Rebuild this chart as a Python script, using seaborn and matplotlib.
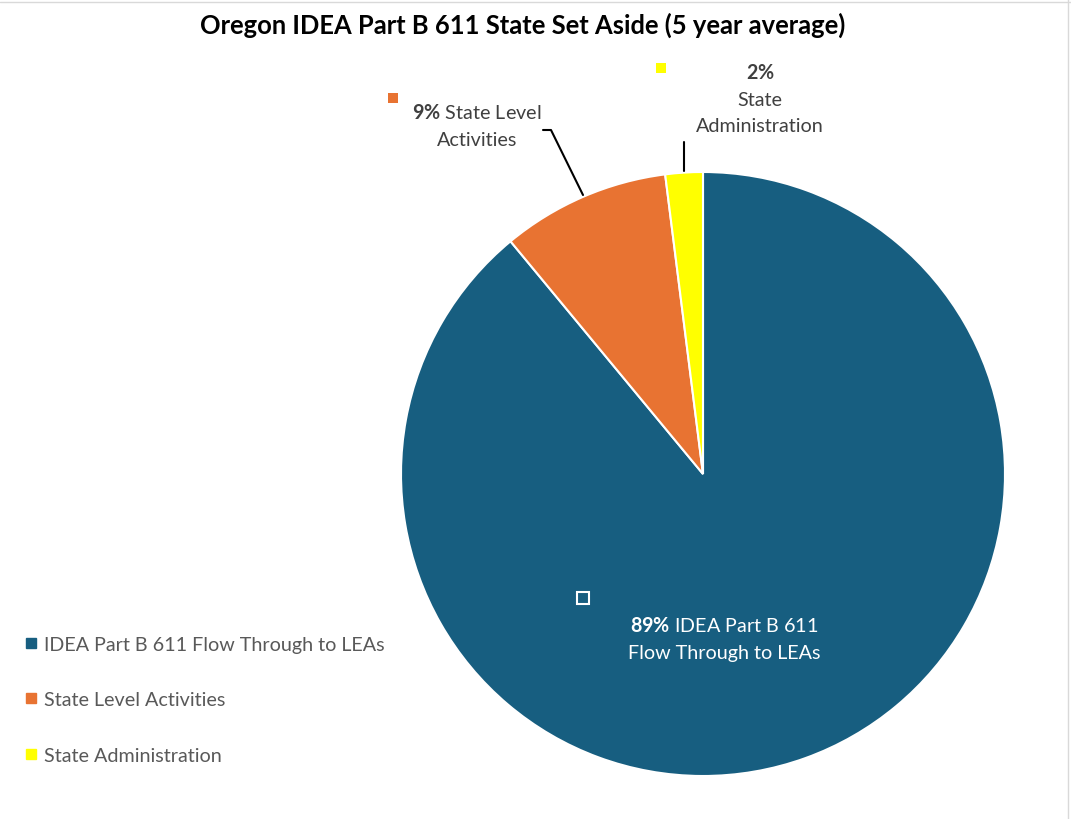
import seaborn as sns
import matplotlib.pyplot as plt
from matplotlib.lines import Line2D

# data
categories = ["IDEA Part B 611 Flow Through to LEAs", "State Level Activities", "State Administration"]
shares = [89, 9, 2]
colors = ["#175E80", "#E87332", "#FFFF00"]
title = "Oregon IDEA Part B 611 State Set Aside (5 year average)"

sns.set_theme(style="white")
plt.rcParams["font.family"] = ["Lato", "DejaVu Sans"]
plt.rcParams["mathtext.fontset"] = "custom"
plt.rcParams["mathtext.rm"] = "Lato"
plt.rcParams["mathtext.bf"] = "Lato:bold"

W, H = 1071, 820
cx, cy, R = 703, 475, 302

fig = plt.figure(figsize=(W / 100, H / 100), dpi=100)
ax = fig.add_axes([0, 0, 1, 1])


def d(px, py):
    # pixel position -> data position (pie radius = 1)
    return (px - cx) / R, (cy - py) / R


wedges, _ = ax.pie(shares, colors=colors, startangle=90, counterclock=False,
                   radius=1, wedgeprops=dict(edgecolor="white", linewidth=1.5))
ax.set_xlim(-cx / R, (W - cx) / R)
ax.set_ylim(-(H - cy) / R, cy / R)
ax.set_aspect("auto")
ax.axis("off")

fig.text(523 / W, 1 - 25 / H, title, ha="center", va="center",
         fontsize=18.4, fontweight="bold", color="black")

lab_col = "#404040"
fs = 14.2
ls = 1.7

# data labels
x, y = d(477, 126)
ax.text(x, y, r"$\bf{%d\%%}$ State Level" % shares[1] + "\nActivities", ha="center",
        va="center", multialignment="center", fontsize=fs, color=lab_col,
        linespacing=ls)
x, y = d(760, 99)
ax.text(x, y, r"$\bf{%d\%%}$" % shares[2] + "\nState\nAdministration", ha="center",
        va="center", multialignment="center", fontsize=fs, color=lab_col,
        linespacing=ls)
x, y = d(724, 639)
ax.text(x, y, r"$\bf{%d\%%}$ IDEA Part B 611" % shares[0] + "\nFlow Through to LEAs",
        ha="center", va="center", multialignment="center", fontsize=fs,
        color="white", linespacing=ls)

# legend keys next to labels
for (px, py), c, face in [((393, 99), colors[1], colors[1]),
                          ((661, 69), colors[2], colors[2]),
                          ((583, 599), "white", "none")]:
    x, y = d(px, py)
    ax.plot([x], [y], marker="s", ms=7 if face != "none" else 8, mfc=face,
            mec=c, mew=1.5 if face == "none" else 0, clip_on=False)

# leader lines
pts = [d(543, 131), d(551, 131), d(583, 196)]
ax.plot([p[0] for p in pts], [p[1] for p in pts], color="black", lw=1.5, clip_on=False)
pts = [d(684, 143), d(684, 172)]
ax.plot([p[0] for p in pts], [p[1] for p in pts], color="black", lw=1.5, clip_on=False)

# legend
handles = [Line2D([], [], marker="s", ls="none", ms=7, mfc=c, mec=c) for c in colors]
fig.legend(handles, categories, loc="upper left", bbox_to_anchor=(15 / W, 1 - 627 / H),
           frameon=False, fontsize=fs, labelcolor="#595959", handlelength=0.6,
           handletextpad=0.35, labelspacing=1.95, borderpad=0)

# faint sheet border
fig.add_artist(Line2D([0, 1], [1 - 3 / H, 1 - 3 / H], color="#D9D9D9", lw=1))
fig.add_artist(Line2D([1 - 3 / W, 1 - 3 / W], [0, 1], color="#D9D9D9", lw=1))

fig.savefig("out.png", dpi=100)
